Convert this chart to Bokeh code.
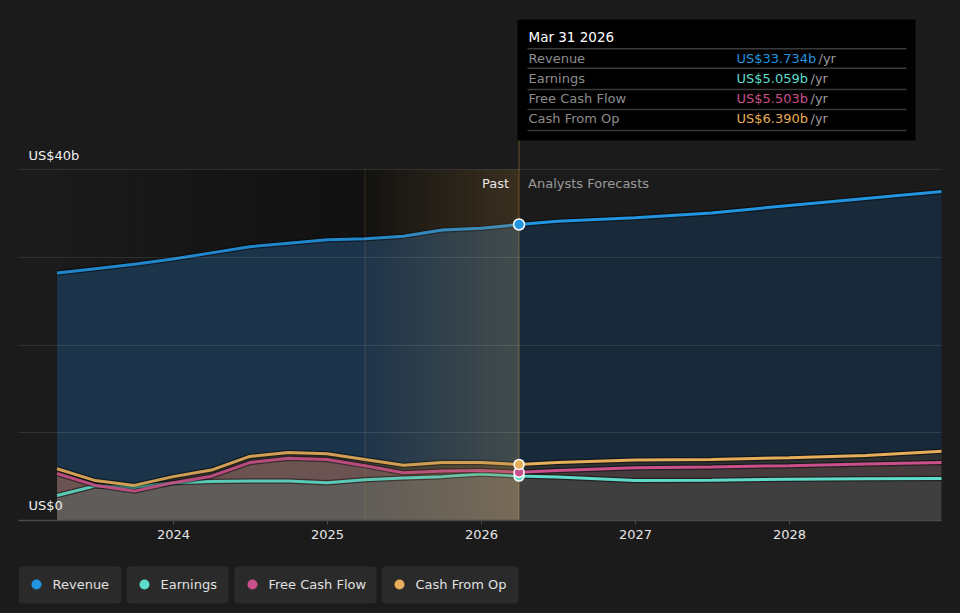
import numpy as np
import pandas as pd
from bokeh.plotting import figure
from bokeh.layouts import column
from bokeh.models import Range1d, FixedTicker
from bokeh.core.properties import value
from bokeh.embed import file_html
from bokeh.resources import INLINE

# ---------------- data ----------------
dates = ["2023-03-31", "2023-06-30", "2023-09-30", "2023-12-31", "2024-03-31",
         "2024-06-30", "2024-09-30", "2024-12-31", "2025-03-31", "2025-06-30",
         "2025-09-30", "2025-12-31", "2026-03-31",
         "2026-06-30", "2026-12-31", "2027-06-30", "2027-12-31", "2028-06-30",
         "2028-12-31"]
revenue = [28.2, 28.7, 29.2, 29.8, 30.5, 31.2, 31.6, 32.0, 32.1, 32.4, 33.1, 33.3, 33.734,
           34.1, 34.5, 35.05, 35.9, 36.7, 37.5]
earnings = [2.85, 3.95, 3.75, 4.3, 4.45, 4.5, 4.5, 4.3, 4.65, 4.85, 5.0, 5.3, 5.059,
            4.95, 4.55, 4.6, 4.7, 4.75, 4.8]
free_cash_flow = [5.35, 4.0, 3.35, 4.3, 5.05, 6.6, 7.1, 6.95, 6.25, 5.45, 5.65, 5.7, 5.503,
                  5.7, 6.0, 6.1, 6.25, 6.45, 6.6]
cash_from_op = [5.9, 4.55, 4.0, 5.0, 5.75, 7.3, 7.75, 7.6, 6.95, 6.3, 6.6, 6.6, 6.390,
                6.6, 6.9, 6.95, 7.15, 7.4, 7.9]
series_names = ["Revenue", "Earnings", "Free Cash Flow", "Cash From Op"]
series_colors = ["#2394df", "#5fdcc9", "#c9508a", "#e6ad5a"]
tick_years = [2024, 2025, 2026, 2027, 2028]
tick_labels = ["2024", "2025", "2026", "2027", "2028"]
y_grid_values = [10, 20, 30, 40]
y_label_values = [0, 40]
y_label_texts = ["US$0", "US$40b"]
today_index = 12
past_start_index = 8

# ---------------- helpers ----------------
dt = pd.to_datetime(dates)
xs = np.asarray(dt.year + (dt.dayofyear - 1) / np.where(dt.is_leap_year, 366, 365), dtype=float)
rev = np.array(revenue)
ern = np.array(earnings)
fcf = np.array(free_cash_flow)
cfo = np.array(cash_from_op)
today_x = xs[today_index]

BG = "#1b1b1b"
FONT = value("DejaVu Sans")
W, H1, H2 = 960, 553, 60
XL, XR = 2022.9935, 2028.987
YB, YT = 0.0, 58.35
PX_PER_YEAR = 154.0
PX_PER_B = 8.775


def X(px):  # page pixel -> year (for annotation layout only)
    return XL + (px - 18) / PX_PER_YEAR


def Y(py):  # page pixel -> value (for annotation layout only)
    return (520 - py) / PX_PER_B


p = figure(width=W, height=H1, x_range=Range1d(XL, XR), y_range=Range1d(YB, YT),
           output_backend="svg", toolbar_location=None, y_axis_location=None,
           min_border_left=18, min_border_right=19, min_border_top=8, min_border_bottom=33,
           background_fill_color=BG, border_fill_color=BG, outline_line_color=None)
p.title.visible = False

ax = p.xaxis[0]
ax.ticker = FixedTicker(ticks=tick_years)
ax.major_label_overrides = {y: t for y, t in zip(tick_years, tick_labels)}
ax.axis_line_color = "#4a4a4a"
ax.axis_line_width = 1.5
ax.major_tick_line_color = "#4a4a4a"
ax.major_tick_out = 4
ax.major_tick_in = 0
ax.minor_tick_line_color = None
ax.major_label_text_color = "#e6e6e6"
ax.major_label_text_font = "DejaVu Sans"
ax.major_label_text_font_size = "13px"
ax.major_label_standoff = 5

p.xgrid.visible = False
p.ygrid.ticker = FixedTicker(ticks=y_grid_values)
p.ygrid.grid_line_color = "#ffffff"
p.ygrid.grid_line_alpha = 0.1
p.ygrid.level = "annotation"

# dark gradient over the past region (behind the data)
n = 60
e1 = np.linspace(xs[0], xs[past_start_index], n + 1)
p.quad(left=e1[:-1], right=e1[1:], bottom=0, top=40, fill_color="black",
       fill_alpha=np.linspace(0.0, 0.35, n), line_color=None)
p.quad(left=[xs[past_start_index]], right=[today_x], bottom=0, top=40, fill_color="black",
       fill_alpha=0.35, line_color=None)

# stacked bands
past = slice(0, today_index + 1)
fut = slice(today_index, len(xs))
band_past = ["#5f5c59", "#6a5350", "#3d3b36", "#1c344a"]
band_fut = ["#3f3f3f", "#453a3c", "#2d3131", "#182a3a"]
bounds = [(np.zeros_like(ern), ern), (ern, fcf), (fcf, cfo), (cfo, rev)]
for (lo, hi), cp, cf in zip(bounds, band_past, band_fut):
    p.varea(x=xs[past], y1=lo[past], y2=hi[past], fill_color=cp)
    p.varea(x=xs[fut], y1=lo[fut], y2=hi[fut], fill_color=cf)

# lines
for arr, col in zip([ern, fcf, cfo, rev], [series_colors[1], series_colors[2], series_colors[3], series_colors[0]]):
    p.line(xs, arr, line_color="black", line_alpha=0.45, line_width=5.5)
    p.line(xs[past], arr[past], line_color=col, line_width=3, line_alpha=0.9)
    p.line(xs[fut], arr[fut], line_color=col, line_width=3)

# golden gradient for the last year of the past
e2 = np.linspace(xs[past_start_index], today_x, n + 1)
p.quad(left=e2[:-1], right=e2[1:], bottom=0, top=40, fill_color="#d8a658",
       fill_alpha=np.linspace(0.02, 0.21, n), line_color=None)
p.segment(x0=[xs[past_start_index]], y0=[0], x1=[xs[past_start_index]], y1=[40],
          line_color="#e0a850", line_alpha=0.18, line_width=1)
p.segment(x0=[today_x], y0=[0], x1=[today_x], y1=[Y(19)],
          line_color="#e0a850", line_alpha=0.38, line_width=1)

# today dots
for arr, col, sz in [(ern, series_colors[1], 10), (fcf, series_colors[2], 10),
                     (cfo, series_colors[3], 10), (rev, series_colors[0], 11)]:
    p.scatter([today_x], [arr[today_index]], size=sz, fill_color=col,
              line_color="white", line_width=1.5)

# y labels
p.text(x=[XL] * 2, y=y_label_values, text=y_label_texts, x_offset=10,
       y_offset=[-15, -14], text_baseline="middle", text_align="left",
       text_font=FONT, text_font_size="13px", text_color="#f0f0f0")

# Past / Analysts Forecasts
p.text(x=[today_x], y=[40], text=["Past"], x_offset=-10, y_offset=14,
       text_align="right", text_baseline="middle", text_font=FONT,
       text_font_size="13px", text_color="#e8e8e8")
p.text(x=[today_x], y=[40], text=["Analysts Forecasts"], x_offset=9, y_offset=14,
       text_align="left", text_baseline="middle", text_font=FONT,
       text_font_size="13px", text_color="#9a9a9a")

# tooltip
p.quad(left=[X(517)], right=[X(915)], top=[Y(19)], bottom=[Y(140)],
       fill_color="black", line_color=None)
div_y = [48.3, 67.7, 89, 109, 130]
p.segment(x0=[X(527)] * 5, x1=[X(906)] * 5, y0=[Y(d) for d in div_y],
          y1=[Y(d) for d in div_y], line_color="#3a3a3a", line_width=1.5)
p.text(x=[X(528)], y=[Y(36.7)], text=[dt[today_index].strftime("%b %d %Y")],
       text_baseline="middle", text_font=FONT, text_font_size="13.5px", text_color="#ffffff")
row_y = [Y(v) for v in [57.7, 77.7, 98, 118.3]]
vals = [rev[today_index], ern[today_index], fcf[today_index], cfo[today_index]]
p.text(x=[X(528)] * 4, y=row_y, text=series_names, text_baseline="middle",
       text_font=FONT, text_font_size="13px", text_color="#8c8c8c")
p.text(x=[X(736)] * 4, y=row_y, text=[f"US${v:.3f}b" for v in vals],
       text_baseline="middle", text_font=FONT, text_font_size="13px",
       text_color=series_colors)
p.text(x=[X(818), X(810), X(810), X(810)], y=row_y, text=["/yr"] * 4,
       text_baseline="middle", text_font=FONT, text_font_size="13px", text_color="#9a9a9a")

# ---------------- legend ----------------
lg = figure(width=W, height=H2, x_range=Range1d(18, 941), y_range=Range1d(H2, 0),
            output_backend="svg", toolbar_location=None, x_axis_location=None,
            y_axis_location=None, min_border_left=18, min_border_right=19,
            min_border_top=0, min_border_bottom=0, background_fill_color=BG,
            border_fill_color=BG, outline_line_color=None)
lg.title.visible = False
lg.xgrid.visible = False
lg.ygrid.visible = False
box_l = [18, 126, 234, 381]
box_r = [121, 228, 376, 518]
lg.quad(left=box_l, right=box_r, top=[13] * 4, bottom=[50] * 4,
        fill_color="#2a2a2a", line_color=None, border_radius=4)
lg.scatter(x=[b + 18 for b in box_l], y=[31] * 4, size=10, fill_color=series_colors,
           line_color=None)
lg.text(x=[b + 34 for b in box_l], y=[30.5] * 4, text=series_names, text_baseline="middle",
        text_font=FONT, text_font_size="13px", text_color="#e0e0e0")

html = file_html(column(p, lg, spacing=0), INLINE, title="chart")
html = html.replace("<head>", "<head><style>body{background:#1b1b1b;}</style>", 1)
open("out.html", "w").write(html)
